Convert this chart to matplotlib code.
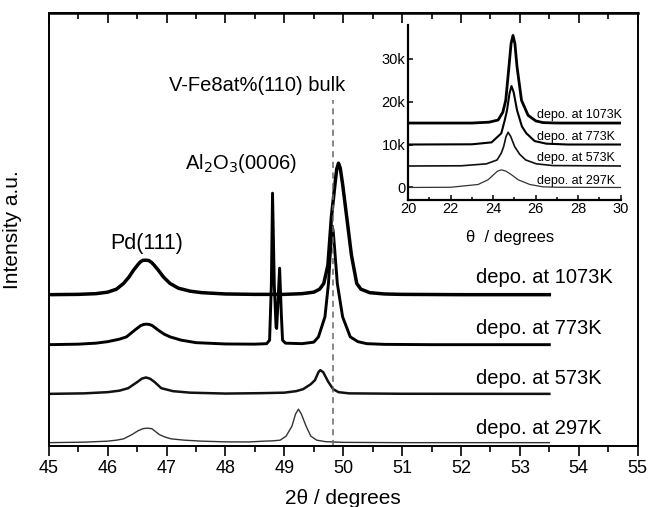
import matplotlib
matplotlib.use("Agg")
import matplotlib.pyplot as plt
from matplotlib.ticker import MultipleLocator, FixedLocator

plt.rcParams['font.family'] = ['Liberation Sans', 'DejaVu Sans']

# main panel: 2theta (deg) vs intensity above each curve's own baseline (a.u.)
x_1073 = [45.0, 45.5, 45.8, 46.0, 46.15, 46.27, 46.36, 46.44, 46.52, 46.56, 46.6, 46.65,
          46.7, 46.75, 46.79, 46.86, 46.95, 47.06, 47.2, 47.4, 47.6, 48.0, 48.5, 49.0,
          49.3, 49.5, 49.6, 49.67, 49.74, 49.8, 49.86, 49.89, 49.92, 49.95, 49.99, 50.06,
          50.14, 50.23, 50.3, 50.45, 50.7, 51.0, 52.0, 53.5]
y_1073 = [0.5, 0.8, 1.5, 3, 6, 11.7, 18, 25, 31, 33.5, 34.8, 35, 34.6, 32.5, 30, 25, 18,
          11.7, 7, 4, 2.5, 1.2, 0.8, 0.8, 1.5, 3, 6, 11.7, 30, 78, 111, 126, 132, 127,
          111, 78, 40, 11.7, 6, 2.5, 1.2, 0.8, 0.5, 0.5]

x_773 = [45.0, 45.5, 45.8, 46.0, 46.2, 46.32, 46.46, 46.56, 46.61, 46.66, 46.71, 46.76,
         46.86, 46.96, 47.06, 47.25, 47.5, 48.0, 48.5, 48.7, 48.75, 48.78, 48.8, 48.83,
         48.86, 48.87, 48.89, 48.92, 48.95, 48.97, 49.02, 49.3, 49.5, 49.58, 49.69,
         49.75, 49.79, 49.8, 49.815, 49.83, 49.85, 49.9, 49.99, 50.12, 50.25, 50.4, 50.7,
         51.5, 53.5]
y_773 = [0.5, 1, 2, 3.5, 6, 8.3, 15, 19.5, 20.7, 21, 20.7, 19.5, 15, 11, 8.3, 5, 2.5,
         1.2, 1, 1.5, 5, 60, 152, 60, 18, 16.7, 40, 77, 30, 5, 2, 1.5, 3, 8.3, 28.3, 61.7,
         100, 112, 119, 114, 100, 61.7, 28.3, 8.3, 3.5, 1.5, 0.8, 0.5, 0.5]

x_573 = [45.0, 45.6, 46.0, 46.2, 46.35, 46.5, 46.58, 46.65, 46.72, 46.8, 46.91, 47.11,
         47.4, 48.0, 48.6, 49.0, 49.2, 49.32, 49.45, 49.52, 49.58, 49.61, 49.66, 49.75,
         49.83, 49.92, 50.1, 51.0, 53.5]
y_573 = [0.3, 0.8, 2, 3.5, 6, 12, 15.5, 16.7, 15.5, 12, 6, 3, 1.5, 0.6, 1, 1.5, 3, 5, 10,
         14, 22, 24, 22, 12, 5, 2, 0.8, 0.4, 0.3]

x_297 = [45.0, 45.6, 46.0, 46.15, 46.27, 46.41, 46.52, 46.6, 46.67, 46.75, 46.88, 46.98,
         47.08, 47.3, 47.6, 48.0, 48.4, 48.65, 48.8, 48.93, 49.03, 49.13, 49.19, 49.24,
         49.29, 49.37, 49.45, 49.55, 49.7, 50.0, 51.0, 53.5]
y_297 = [0.5, 1, 2, 3, 4.3, 8.5, 12.5, 14.5, 15, 14.5, 8.5, 6, 4.3, 3, 2, 1.3, 1.2, 2,
         2.3, 3, 7, 17, 29, 34, 29, 17, 7, 3, 1.5, 0.8, 0.5, 0.5]

labels = ['depo. at 1073K', 'depo. at 773K', 'depo. at 573K', 'depo. at 297K']
offsets = [151, 101, 52, 3]
bulk_pos = 49.83

# inset: theta (deg) vs counts, already stacked
ix_1073 = [20.0, 23.0, 23.8, 24.23, 24.45, 24.59, 24.74, 24.84, 24.93, 25.02, 25.12,
           25.33, 25.64, 26.0, 26.34, 27.0, 30.0]
iy_1073 = [15000, 15000, 15200, 15700, 17500, 20300, 28100, 33500, 35400, 33500, 28100,
           20300, 16800, 15500, 15100, 15000, 15000]
ix_773 = [20.0, 23.0, 23.92, 24.38, 24.55, 24.65, 24.77, 24.86, 24.96, 25.12, 25.35,
          25.56, 25.95, 26.5, 27.5, 30.0]
iy_773 = [10000, 10050, 10500, 12600, 15800, 18000, 22000, 23600, 22200, 18000, 14200,
          12600, 10800, 10200, 10000, 10000]
ix_573 = [20.0, 22.5, 23.68, 24.18, 24.38, 24.49, 24.6, 24.7, 24.82, 25.01, 25.25,
          25.53, 26.03, 26.8, 30.0]
iy_573 = [5000, 5050, 5500, 6400, 8000, 9500, 11800, 12850, 11900, 9500, 7700, 6400,
          5500, 5100, 5000]
ix_297 = [20.0, 22.0, 23.29, 23.76, 24.0, 24.2, 24.39, 24.6, 24.85, 25.17, 25.72, 26.34,
          27.0, 30.0]
iy_297 = [0, 50, 700, 1800, 2900, 3800, 4100, 3800, 3000, 1800, 700, 150, 50, 0]
inset_yticks = [0, 10000, 20000, 30000]
inset_ylabels = ['0', '10k', '20k', '30k']

fig = plt.figure(figsize=(6.5, 5.07), dpi=100)
ax = fig.add_axes([0.075, 0.120, 0.906, 0.854])

main_x = [x_1073, x_773, x_573, x_297]
main_y = [y_1073, y_773, y_573, y_297]
widths = [2.5, 2.1, 1.8, 1.0]
colors = ['black', 'black', '#111111', '#333333']
for xs, ys, off, lw, c in zip(main_x, main_y, offsets, widths, colors):
    ax.plot(xs, [v + off for v in ys], color=c, lw=lw, solid_joinstyle='round')

ax.plot([bulk_pos, bulk_pos], [0, 346], color='#666666', lw=1.1, ls=(0, (4, 3)))

label_y = [169, 118, 68, 18]
for lab, ly in zip(labels, label_y):
    ax.text(52.25, ly, lab, fontsize=14.5, va='center', ha='left')

ax.text(48.54, 361, 'V-Fe8at%(110) bulk', fontsize=14.5, ha='center', va='center')
ax.text(48.26, 283, 'Al$_2$O$_3$(0006)', fontsize=14.5, ha='center', va='center')
ax.text(46.67, 203, 'Pd(111)', fontsize=15.5, ha='center', va='center')

ax.set_xlim(45, 55)
ax.set_ylim(0, 433)
ax.set_yticks([])
ax.xaxis.set_major_locator(MultipleLocator(1))
ax.xaxis.set_minor_locator(MultipleLocator(0.5))
ax.tick_params(axis='x', which='major', direction='out', length=7, width=1.2,
               labelsize=13, pad=3)
ax.tick_params(axis='x', which='minor', direction='out', length=4.5, width=1.2)
for s in ax.spines.values():
    s.set_linewidth(1.4)

top = ax.secondary_xaxis('top')
top.xaxis.set_major_locator(MultipleLocator(1))
top.xaxis.set_minor_locator(MultipleLocator(0.5))
top.tick_params(axis='x', which='major', direction='in', length=7, width=1.2, labeltop=False)
top.tick_params(axis='x', which='minor', direction='in', length=4.5, width=1.2)
top.spines['top'].set_linewidth(1.8)

ax.set_xlabel('2θ / degrees', fontsize=15)
ax.xaxis.set_label_coords(0.5, -0.1)
ax.set_ylabel('Intensity a.u.', fontsize=15)
ax.yaxis.set_label_coords(-0.045, 0.5)

# inset
ins = fig.add_axes([0.628, 0.6065, 0.327, 0.344])
ins.patch.set_alpha(0)
ins_x = [ix_1073, ix_773, ix_573, ix_297]
ins_y = [iy_1073, iy_773, iy_573, iy_297]
ins_w = [2.0, 1.5, 1.2, 0.9]
for xs, ys, lw, c in zip(ins_x, ins_y, ins_w, colors):
    ins.plot(xs, ys, color=c, lw=lw, solid_joinstyle='round')

ins_label_y = [16900, 11800, 6800, 1600]
for lab, ly in zip(labels, ins_label_y):
    ins.text(26.05, ly, lab, fontsize=9, va='center', ha='left')

ins.set_xlim(20, 30)
ins.set_ylim(-2800, 37800)
ins.spines['top'].set_visible(False)
ins.spines['right'].set_visible(False)
ins.spines['left'].set_linewidth(1.6)
ins.spines['bottom'].set_linewidth(1.6)
ins.xaxis.set_major_locator(MultipleLocator(2))
ins.xaxis.set_minor_locator(MultipleLocator(1))
ins.yaxis.set_major_locator(FixedLocator(inset_yticks))
ins.set_yticklabels(inset_ylabels)
ins.tick_params(axis='both', which='major', direction='in', length=3.5, width=1.1,
                labelsize=10.5, pad=2)
ins.tick_params(axis='x', which='minor', direction='in', length=2.5, width=1.1)
ins.set_xlabel('θ  / degrees', fontsize=12, labelpad=1)
ins.xaxis.set_label_coords(0.478, -0.175)

fig.savefig('out.png', dpi=100)
